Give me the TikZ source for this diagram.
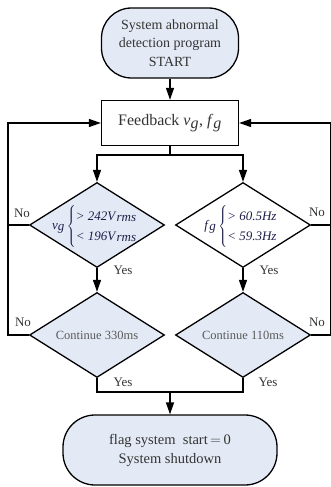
\documentclass[tikz,border=0pt]{standalone}
\usepackage{fontspec}
\setmainfont{Liberation Serif}
\usetikzlibrary{shapes.geometric,arrows.meta}
\definecolor{boxfill}{HTML}{E4EAF5}
\definecolor{ineq}{HTML}{1E1E4A}
\definecolor{ink}{HTML}{333333}
\begin{document}
\begin{tikzpicture}[x=1pt,y=-1pt,
  line width=1.3pt,
  every node/.style={inner sep=0pt},
  terminal/.style={draw, rounded corners=30pt, minimum height=70pt, fill=boxfill, align=center, text=ink},
  process/.style={draw, minimum width=137pt, minimum height=45pt, fill=white, text=ink},
  decision/.style={draw, diamond, minimum width=135pt, minimum height=85pt},
  flow/.style={-{Triangle[length=12pt,width=8pt]}},
  tag/.style={font=\fontsize{13}{13}\selectfont, text=ink},
  ineqtext/.style={font=\fontsize{13}{20}\selectfont, text=ineq},
  holdtext/.style={font=\fontsize{12.5}{14}\selectfont, text=black!65}
]
\useasboundingbox (0,0) rectangle (330,487);

% terminals and process box
\node[terminal, minimum width=137pt, font=\fontsize{14}{18.5}\selectfont] (start) at (170,43)
  {System abnormal\\detection program\\START};
\node[process, font=\fontsize{16}{18}\selectfont] (fb) at (170,123)
  {Feedback \textit{v}$_{\textit{g}}$, \textit{f}$_{\textit{g}}$};
\node[terminal, minimum width=214pt, rounded corners=32pt, font=\fontsize{14.5}{19}\selectfont] (stop) at (170,450)
  {flag system\ \ start$\,=\,$0\\System shutdown};

% decisions
\node[decision, fill=boxfill] (d1) at (97,225) {};
\node[decision, fill=white] (d2) at (243,225) {};
\node[decision, fill=boxfill] (d3) at (97,335) {};
\node[decision, fill=boxfill] (d4) at (243,335) {};

\node[ineqtext] (d1t) at (95,226)
  {\textit{v}$_{\textit{g}}\left\{\begin{tabular}{@{}l@{}}\textit{> 242V}$_{\textit{rms}}$\\\textit{< 196V}$_{\textit{rms}}$\end{tabular}\right.$};
\node[ineqtext] (d2t) at (241,226)
  {\textit{f}$_{\textit{g}}\left\{\begin{tabular}{@{}l@{}}\textit{> 60.5Hz}\\\textit{< 59.3Hz}\end{tabular}\right.$};
\node[holdtext] (d3t) at (d3) {Continue 330ms};
\node[holdtext] (d4t) at (d4) {Continue 110ms};

% rails for the feedback loops
\coordinate (lrail) at (8,0);
\coordinate (rrail) at (331,0);
\coordinate (split) at (170,155);
\coordinate (merge) at (170,392);

% main flow
\draw[flow] (start) -- (fb);
\draw (fb.south) -- (split);
\draw[flow] (split) -| (d1.north);
\draw[flow] (split) -| (d2.north);
\draw[flow] (d1.south) -- (d3.north);
\draw[flow] (d2.south) -- (d4.north);
\draw (d3.south) |- (merge) -| (d4.south);
\draw[flow] (merge) -- (stop.north);

% "No" branches back to the feedback box
\draw[flow] (d3.west) -- (d3.west -| lrail) |- (fb.west);
\draw (d1.west) -- (d1.west -| lrail);
\draw[flow] (d4.east) -- (d4.east -| rrail) |- (fb.east);
\draw (d2.east) -- (d2.east -| rrail);

% branch labels
\node[tag] (n1) at (22,213) {No};
\node[tag] (n2) at (317,212) {No};
\node[tag] (n3) at (23,322) {No};
\node[tag] (n4) at (317,322) {No};
\node[tag] (y1) at (123,270) {Yes};
\node[tag] (y2) at (269,270) {Yes};
\node[tag] (y3) at (123,382) {Yes};
\node[tag] (y4) at (268,382) {Yes};
\end{tikzpicture}
\end{document}
